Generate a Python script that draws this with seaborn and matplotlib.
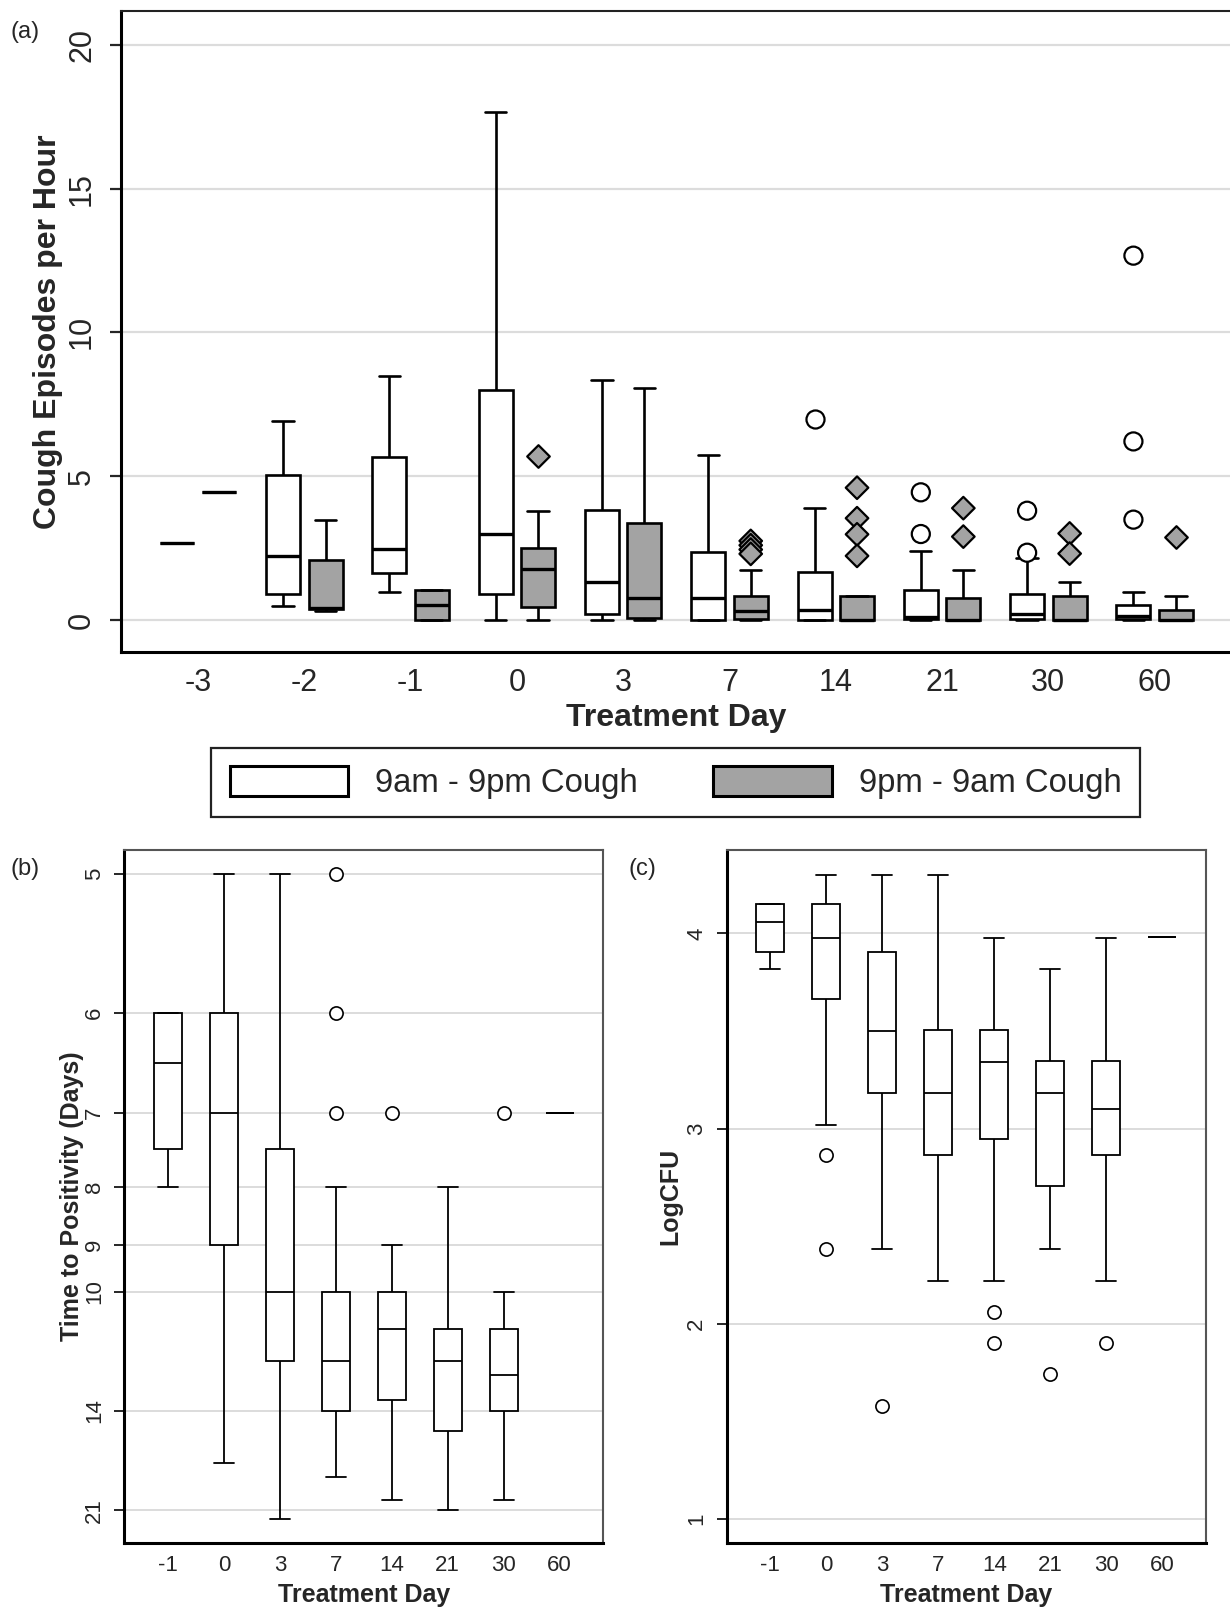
import numpy as np
import pandas as pd
import seaborn as sns
import matplotlib.pyplot as plt
from matplotlib.patches import Patch

sns.set_style("white")
plt.rcParams["font.family"] = ["Liberation Sans", "DejaVu Sans"]

# ---------------- panel (a): cough episodes per hour ----------------
days_a = ["-3", "-2", "-1", "0", "3", "7", "14", "21", "30", "60"]
periods = ["9am - 9pm Cough", "9pm - 9am Cough"]

# box stats: whisker low, q1, median, q3, whisker high
day_lo = [2.67, 0.50, 0.99, 0.00, 0.00, 0.00, 0.00, 0.00, 0.00, 0.00]
day_q1 = [2.67, 0.91, 1.62, 0.91, 0.22, 0.00, 0.00, 0.03, 0.03, 0.03]
day_med = [2.67, 2.23, 2.47, 2.99, 1.33, 0.78, 0.34, 0.10, 0.22, 0.14]
day_q3 = [2.67, 5.04, 5.67, 8.01, 3.83, 2.37, 1.67, 1.04, 0.91, 0.53]
day_hi = [2.67, 6.92, 8.50, 17.68, 8.33, 5.73, 3.91, 2.40, 2.16, 0.99]

night_lo = [4.44, 0.33, 0.00, 0.00, 0.00, 0.00, 0.00, 0.00, 0.00, 0.00]
night_q1 = [4.44, 0.38, 0.00, 0.46, 0.06, 0.03, 0.00, 0.00, 0.00, 0.00]
night_med = [4.44, 0.43, 0.51, 1.78, 0.78, 0.30, 0.00, 0.00, 0.00, 0.00]
night_q3 = [4.44, 2.07, 1.04, 2.51, 3.38, 0.85, 0.83, 0.77, 0.85, 0.34]
night_hi = [4.44, 3.49, 1.04, 3.78, 8.07, 1.73, 0.83, 1.73, 1.31, 0.82]

day_out_x = ["14", "21", "21", "30", "30", "60", "60", "60"]
day_out_y = [7.00, 4.44, 2.99, 3.80, 2.34, 12.67, 6.21, 3.49]
night_out_x = ["0", "7", "7", "7", "7", "14", "14", "14", "14", "21", "21", "30", "30", "60"]
night_out_y = [5.72, 2.75, 2.60, 2.45, 2.30, 4.60, 3.54, 2.98, 2.23, 3.89, 2.90, 3.01, 2.31, 2.88]

# ---------------- panel (b): time to positivity ----------------
days_bc = ["-1", "0", "3", "7", "14", "21", "30", "60"]
ttp_lo = [6, 5, 5, 8, 9, 8, 10, 7]
ttp_q1 = [6, 6, 7.46, 10, 10, 11, 11, 7]
ttp_med = [6.46, 7, 10, 12, 11, 12, 12.5, 7]
ttp_q3 = [7.46, 9, 12, 14, 13.5, 15, 14, 7]
ttp_hi = [8, 17, 22, 18, 20, 21, 20, 7]
ttp_out_x = ["7", "7", "7", "14", "30"]
ttp_out_y = [5, 6, 7, 7, 7]
ttp_ticks = [5, 6, 7, 8, 9, 10, 14, 21]

# ---------------- panel (c): LogCFU ----------------
cfu_lo = [3.82, 3.02, 2.38, 2.22, 2.22, 2.38, 2.22, 3.98]
cfu_q1 = [3.905, 3.666, 3.18, 2.864, 2.946, 2.704, 2.864, 3.98]
cfu_med = [4.059, 3.979, 3.501, 3.18, 3.339, 3.18, 3.10, 3.98]
cfu_q3 = [4.149, 4.149, 3.905, 3.506, 3.506, 3.347, 3.347, 3.98]
cfu_hi = [4.149, 4.298, 4.298, 4.298, 3.979, 3.82, 3.979, 3.98]
cfu_out_x = ["0", "0", "3", "14", "14", "21", "30"]
cfu_out_y = [2.864, 2.38, 1.578, 2.059, 1.90, 1.74, 1.90]


def five_rows(cats, lo, q1, med, q3, hi, **extra):
    rows = []
    for i, c in enumerate(cats):
        for v in (lo[i], q1[i], med[i], q3[i], hi[i]):
            rows.append({"day": c, "val": v, **extra})
    return rows


df_a = pd.DataFrame(
    five_rows(days_a, day_lo, day_q1, day_med, day_q3, day_hi, period=periods[0])
    + five_rows(days_a, night_lo, night_q1, night_med, night_q3, night_hi, period=periods[1])
)
df_b = pd.DataFrame(five_rows(days_bc, ttp_lo, ttp_q1, ttp_med, ttp_q3, ttp_hi))
df_c = pd.DataFrame(five_rows(days_bc, cfu_lo, cfu_q1, cfu_med, cfu_q3, cfu_hi))

gray = "#a3a3a3"
pal = {periods[0]: "white", periods[1]: gray}

fig = plt.figure(figsize=(12.3, 16.07), dpi=100)
axa = fig.add_axes([0.0981, 0.5945, 0.9035, 0.3987])
axb = fig.add_axes([0.1011, 0.0400, 0.3894, 0.4311])
axc = fig.add_axes([0.5908, 0.0400, 0.3897, 0.4311])

# panel a
sns.boxplot(data=df_a, x="day", y="val", hue="period", order=days_a, hue_order=periods,
            palette=pal, saturation=1, whis=(0, 100), width=0.8, gap=0.2,
            linecolor="black", linewidth=1.9, fliersize=0, capwidths=0.2,
            medianprops={"linewidth": 2.4}, legend=False, ax=axa)
sns.stripplot(x=day_out_x, y=day_out_y, hue=[periods[0]] * len(day_out_x),
              hue_order=periods, order=days_a, palette=pal, dodge=True, jitter=False,
              marker="o", size=13, edgecolor="black", linewidth=1.6, legend=False,
              zorder=5, ax=axa)
sns.stripplot(x=night_out_x, y=night_out_y, hue=[periods[1]] * len(night_out_x),
              hue_order=periods, order=days_a, palette=pal, dodge=True, jitter=False,
              marker="D", size=11.5, edgecolor="black", linewidth=1.6, legend=False,
              zorder=5, ax=axa)
axa.set_xlim(-0.727, 9.727)
axa.set_ylim(-1.10, 21.18)
axa.set_yticks([0, 5, 10, 15, 20])
axa.yaxis.grid(True, color="#dcdcdc", linewidth=1.6)
axa.set_axisbelow(True)
axa.set_xlabel("Treatment Day", fontsize=23, fontweight="bold")
axa.set_ylabel("Cough Episodes per Hour", fontsize=23, fontweight="bold")
axa.xaxis.set_label_coords(0.5, -0.080)
axa.yaxis.set_label_coords(-0.0515, 0.5)
axa.tick_params(axis="x", length=0, labelsize=22, pad=11.5)
axa.tick_params(axis="y", length=8, width=1.6, labelsize=22, labelrotation=90, pad=9, left=True)
for lbl in axa.get_yticklabels():
    lbl.set_va("center")
for s in ["left", "bottom"]:
    axa.spines[s].set_linewidth(2.2)
    axa.spines[s].set_color("black")
axa.spines["top"].set_linewidth(1.5)
axa.spines["top"].set_color("#222222")
axa.spines["right"].set_visible(False)

# legend
handles = [Patch(facecolor="white", edgecolor="black", linewidth=2.2, label=periods[0]),
           Patch(facecolor=gray, edgecolor="black", linewidth=2.2, label=periods[1])]
leg = fig.legend(handles=handles, loc="center", bbox_to_anchor=(0.5492, 0.5131), ncol=2,
                 fontsize=23.7, handlelength=3.61, handleheight=1.03, handletextpad=0.82,
                 columnspacing=2.27, borderpad=0.55, fancybox=False, framealpha=1,
                 edgecolor="#222222")
leg.get_frame().set_linewidth(1.6)


def small_panel(ax, df, ox, oy):
    sns.boxplot(data=df, x="day", y="val", order=days_bc, color="white", saturation=1,
                whis=(0, 100), width=0.5, linecolor="black", linewidth=1.3, fliersize=0,
                capwidths=0.36, ax=ax)
    sns.stripplot(x=ox, y=oy, order=days_bc, color="white", jitter=False, marker="o",
                  size=9.5, edgecolor="black", linewidth=1.2, zorder=5, ax=ax)
    ax.set_xlim(-0.78, 7.78)
    ax.yaxis.grid(True, color="#dcdcdc", linewidth=1.4)
    ax.set_axisbelow(True)
    ax.tick_params(axis="x", length=0, labelsize=16, pad=8.5)
    ax.tick_params(axis="y", length=7, width=1.4, labelsize=16, labelrotation=90, pad=7, left=True)
    for s in ["left", "bottom"]:
        ax.spines[s].set_linewidth(2.2)
        ax.spines[s].set_color("black")
    for s in ["top", "right"]:
        ax.spines[s].set_linewidth(1.5)
        ax.spines[s].set_color("#555555")
    ax.set_xlabel("Treatment Day", fontsize=18, fontweight="bold")
    ax.xaxis.set_label_coords(0.5, -0.058)


small_panel(axb, df_b, ttp_out_x, ttp_out_y)


def recip(v):
    with np.errstate(divide="ignore"):
        return -1.0 / np.asarray(v, dtype=float)


axb.set_yscale("function", functions=(recip, recip))
axb.set_ylim(25.1, 4.86)
axb.set_yticks(ttp_ticks)
axb.set_yticklabels([str(t) for t in ttp_ticks])
axb.yaxis.set_minor_locator(plt.NullLocator())
axb.set_ylabel("Time to Positivity (Days)", fontsize=18, fontweight="bold")
axb.yaxis.set_label_coords(-0.0841, 0.5)

small_panel(axc, df_c, cfu_out_x, cfu_out_y)
axc.set_ylim(0.877, 4.428)
axc.set_yticks([1, 2, 3, 4])
axc.set_ylabel("LogCFU", fontsize=18, fontweight="bold")
axc.yaxis.set_label_coords(-0.0933, 0.5)

for ax in (axb, axc):
    for lbl in ax.get_yticklabels():
        lbl.set_va("center")

fig.text(10 / 1230, 1 - 32 / 1607, "(a)", fontsize=17, va="center", ha="left")
fig.text(10 / 1230, 1 - 869 / 1607, "(b)", fontsize=17, va="center", ha="left")
fig.text(628 / 1230, 1 - 869 / 1607, "(c)", fontsize=17, va="center", ha="left")

fig.savefig("out.png", dpi=100)
